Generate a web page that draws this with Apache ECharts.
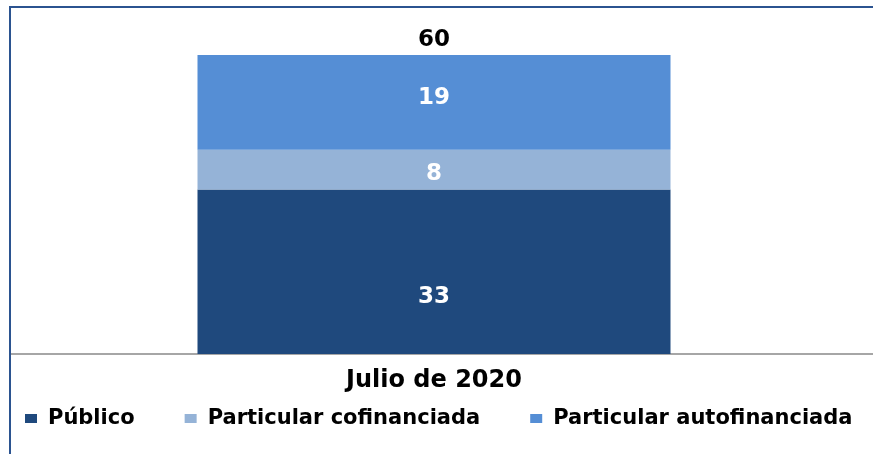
<!DOCTYPE html>
<html>
<head>
<meta charset="utf-8">
<script src="https://cdn.jsdelivr.net/npm/echarts@6/dist/echarts.min.js"></script>
<style>html,body{margin:0;padding:0;background:#fff}#c{width:873px;height:454px}</style>
</head>
<body>
<div id="c"></div>
<script>
var categories = ['Julio de 2020'];
var seriesNames = ['Público', 'Particular cofinanciada', 'Particular autofinanciada'];
var publico = [33];
var cofinanciada = [8];
var autofinanciada = [19];
var colors = ['#1F497D', '#95B3D7', '#558ED5'];

var totals = categories.map(function (c, i) { return publico[i] + cofinanciada[i] + autofinanciada[i]; });

var chart = echarts.init(document.getElementById('c'));
var font = 'DejaVu Sans';
function seg(name, data, color, dy) {
  return {
    name: name, type: 'bar', stack: 'total', data: data, barWidth: 473,
    itemStyle: { color: color },
    label: { show: true, position: 'inside', offset: [0, dy], color: '#fff', fontFamily: font, fontWeight: 'bold', fontSize: 23 },
    emphasis: { disabled: true }
  };
}
chart.setOption({
  animation: false,
  color: colors,
  grid: { left: 10, right: 15, top: 55, bottom: 100 },
  xAxis: {
    type: 'category', data: categories,
    axisLine: { lineStyle: { color: '#A6A6A6', width: 2 } },
    axisTick: { show: false },
    axisLabel: { color: '#000', fontFamily: font, fontWeight: 'bold', fontSize: 24, margin: 15 }
  },
  yAxis: { type: 'value', min: 0, max: 60, show: false, splitLine: { show: false } },
  legend: {
    data: seriesNames, left: 20, top: 403, itemWidth: 12, itemHeight: 9, itemGap: 50,
    icon: 'rect',
    textStyle: { color: '#000', fontFamily: font, fontWeight: 'bold', fontSize: 21, padding: [0, 0, 0, 6] }
  },
  series: [
    seg(seriesNames[0], publico, colors[0], 25),
    seg(seriesNames[1], cofinanciada, colors[1], 4),
    seg(seriesNames[2], autofinanciada, colors[2], -4),
    {
      name: 'Total', type: 'bar', data: totals, barWidth: 473, barGap: '-100%', z: 1,
      itemStyle: { color: 'rgba(0,0,0,0)' },
      label: { show: true, position: 'top', distance: 3, color: '#000', fontFamily: font, fontWeight: 'bold', fontSize: 23 },
      emphasis: { disabled: true }
    }
  ],
  graphic: [
    { type: 'line', shape: { x1: 857, y1: 354, x2: 873, y2: 354 }, style: { stroke: '#A6A6A6', lineWidth: 2 }, silent: true },
    { type: 'rect', shape: { x: 10, y: 7, width: 900, height: 500 }, style: { fill: 'none', stroke: '#2B5390', lineWidth: 2 }, silent: true, z: 100 }
  ]
});
</script>
</body>
</html>
